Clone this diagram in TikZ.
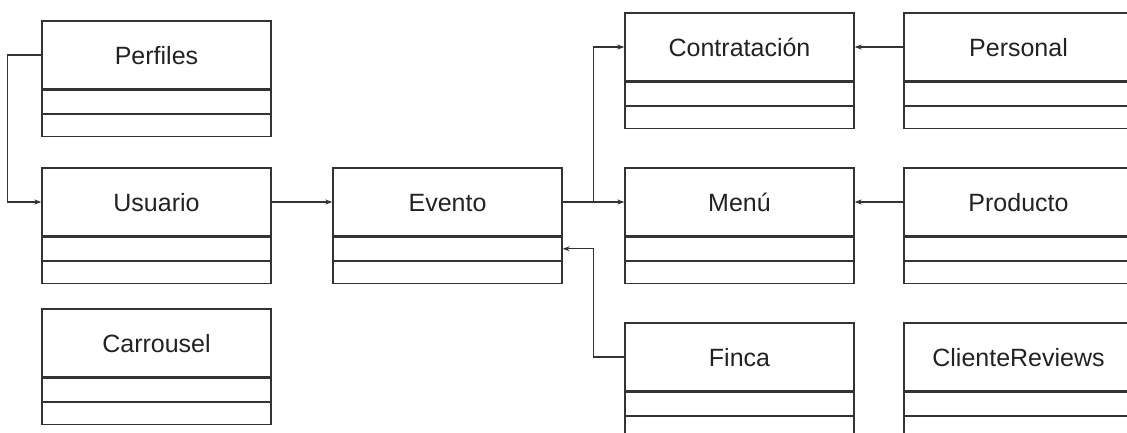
\documentclass[tikz,border=0pt]{standalone}
\usepackage{fontspec}
\setmainfont{Liberation Sans}
\usepackage{xcolor}
\usetikzlibrary{arrows.meta,positioning}

\definecolor{linegray}{HTML}{333333}
\definecolor{textgray}{HTML}{222222}

\begin{document}
\begin{tikzpicture}[x=1pt, y=-1pt,
    classbox/.style={draw=linegray, line width=1.3pt, minimum width=229pt,
        minimum height=68pt, inner sep=0pt, text=textgray,
        font=\fontsize{25}{30}\selectfont, text height=18pt, text depth=0pt},
    compbox/.style={draw=linegray, line width=1.3pt, minimum width=229pt, inner sep=0pt},
    link/.style={draw=linegray, line width=1.3pt, -{Stealth[length=7pt,width=5pt]}}]
    \path[use as bounding box, clip] (0,0) rectangle (1127,432);

    % Class headers
    \node[classbox] (perfiles) at (156.5, 55) {Perfiles};
    \node[classbox] (usuario) at (156.5, 202) {Usuario};
    \node[classbox] (carrousel) at (156.5, 343) {Carrousel};

    \node[classbox] (evento) at (447.5, 202) {Evento};

    \node[classbox] (contratacion) at (739.5, 47) {Contratación};
    \node[classbox] (menu) at (739.5, 202) {Menú};
    \node[classbox] (finca) at (739.5, 357) {Finca};

    \node[classbox] (personal) at (1018.5, 47) {Personal};
    \node[classbox] (producto) at (1018.5, 202) {Producto};
    \node[classbox] (reviews) at (1018.5, 357) {ClienteReviews};

    % Attribute and operation compartments
    \foreach \cls in {perfiles,usuario,carrousel,evento,contratacion,menu,finca,personal,producto,reviews} {
        \node[compbox, minimum height=23pt, below=0pt of \cls] (\cls-attr) {};
        \node[compbox, minimum height=22pt, below=0pt of \cls-attr] (\cls-ops) {};
    }

    % Associations
    \draw[link] (perfiles.west) -- ++(-34,0) |- (usuario.west);
    \draw[link] (usuario.east) -- (evento.west);
    \draw[link] (evento.east) -- (menu.west);
    \coordinate[right=31pt of evento.east] (fork);
    \draw[link] (fork) |- (contratacion.west);
    \draw[link] (finca.west) -| (fork |- evento-attr.east) -- (evento-attr.east);
    \draw[link] (personal.west) -- (contratacion.east);
    \draw[link] (producto.west) -- (menu.east);
\end{tikzpicture}
\end{document}
